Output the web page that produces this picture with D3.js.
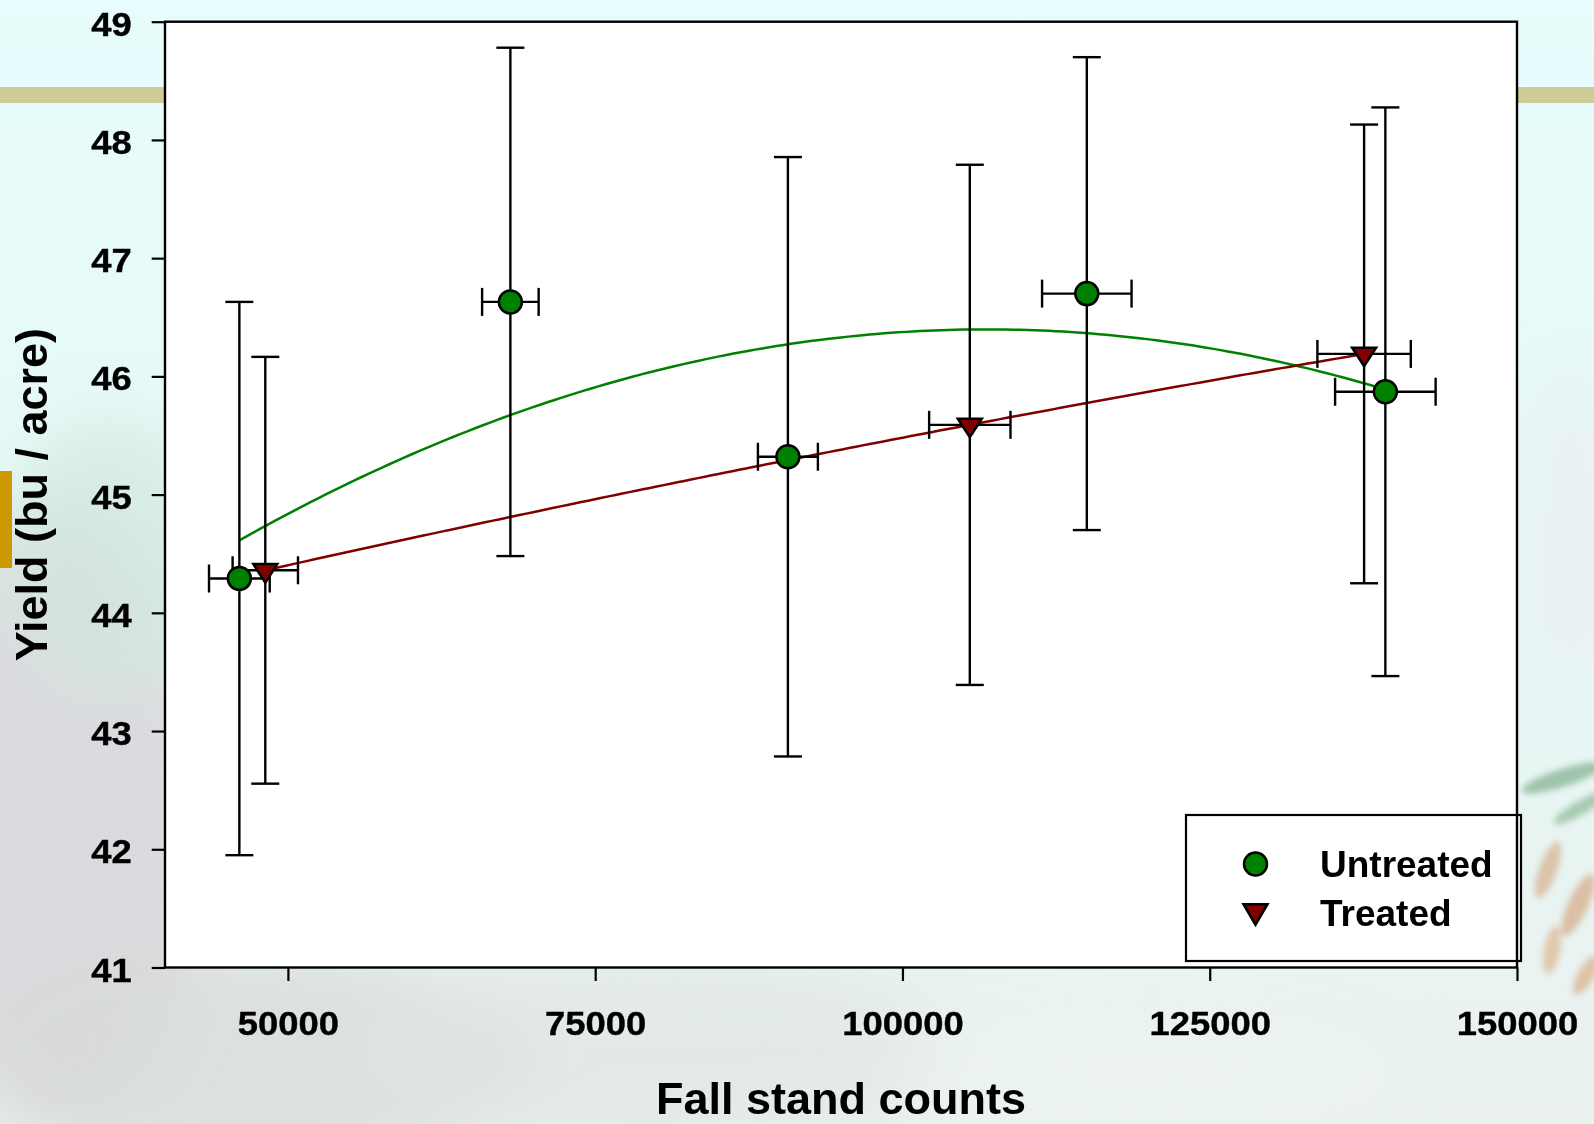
<!DOCTYPE html>
<html>
<head>
<meta charset="utf-8">
<script src="https://cdn.jsdelivr.net/npm/d3@7"></script>
<style>
  html, body { margin: 0; padding: 0; overflow: hidden; background: #e8fcfc; }
  text { font-family: "Liberation Sans", Arial, Helvetica, sans-serif; font-weight: bold; fill: #000; }
</style>
</head>
<body>
<svg id="chart" width="1594" height="1124"></svg>
<script>
// Yield vs. fall stand counts, untreated and treated plots, with
// mean ± error in both directions and a quadratic regression per series.

const xTickValues = [50000, 75000, 100000, 125000, 150000];
const yTickValues = [41, 42, 43, 44, 45, 46, 47, 48, 49];
const seriesNames = ["Untreated", "Treated"];

const untreatedStand = [46050, 68100, 90680, 115000, 139290];
const untreatedYield = [44.29, 46.63, 45.32, 46.70, 45.87];
const untreatedYieldErr = [2.34, 2.15, 2.535, 2.0, 2.405];
const untreatedStandErr = [2470, 2300, 2440, 3640, 4090];

const treatedStand = [48160, 105480, 137560];
const treatedYield = [44.36, 45.59, 46.19];
const treatedYieldErr = [1.805, 2.2, 1.94];
const treatedStandErr = [2660, 3310, 3800];

const W = 1594, H = 1124;
const plot = { left: 165, right: 1517, top: 21.7, bottom: 967.5 };
const GREEN = "#008000", MAROON = "#800000";

const svg = d3.select("#chart");
const defs = svg.append("defs");

// ---------- slide background ----------
const bgGrad = defs.append("linearGradient").attr("id", "bgGrad")
  .attr("x1", 0).attr("y1", 0).attr("x2", 0).attr("y2", 1);
bgGrad.append("stop").attr("offset", "0%").attr("stop-color", "#e7fcfc");
bgGrad.append("stop").attr("offset", "45%").attr("stop-color", "#e6f9f7");
bgGrad.append("stop").attr("offset", "100%").attr("stop-color", "#eaf1ef");

defs.append("filter").attr("id", "haze").attr("x", "-60%").attr("y", "-60%")
  .attr("width", "220%").attr("height", "220%")
  .append("feGaussianBlur").attr("stdDeviation", 30);
defs.append("filter").attr("id", "soft").attr("x", "-60%").attr("y", "-60%")
  .attr("width", "220%").attr("height", "220%")
  .append("feGaussianBlur").attr("stdDeviation", 3);

svg.append("rect").attr("width", W).attr("height", H).attr("fill", "url(#bgGrad)");

const hazePatches = [
  { cx: 60, cy: 820, rx: 150, ry: 320, c: "#d9d5da", o: 0.85 },
  { cx: 110, cy: 560, rx: 110, ry: 140, c: "#d2e8dd", o: 0.7 },
  { cx: 260, cy: 1060, rx: 280, ry: 110, c: "#d8dcd9", o: 0.8 },
  { cx: 650, cy: 1050, rx: 300, ry: 90, c: "#e0e5e2", o: 0.7 },
  { cx: 1150, cy: 1070, rx: 260, ry: 70, c: "#edf3f1", o: 0.6 },
  { cx: 1570, cy: 520, rx: 40, ry: 160, c: "#ede8ec", o: 0.5 }
];
svg.append("g").attr("filter", "url(#haze)")
  .selectAll("ellipse").data(hazePatches).join("ellipse")
  .attr("cx", d => d.cx).attr("cy", d => d.cy)
  .attr("rx", d => d.rx).attr("ry", d => d.ry)
  .attr("fill", d => d.c).attr("opacity", d => d.o);

// faded sprig at the right edge
const sprig = [
  { cx: 1562, cy: 778, rx: 42, ry: 9, r: -18, c: "#86b393" },
  { cx: 1580, cy: 808, rx: 30, ry: 7, r: -30, c: "#93bb9b" },
  { cx: 1548, cy: 870, rx: 9, ry: 30, r: 20, c: "#d8b493" },
  { cx: 1578, cy: 905, rx: 10, ry: 34, r: 25, c: "#d6ae8a" },
  { cx: 1552, cy: 950, rx: 8, ry: 24, r: 10, c: "#dcb995" },
  { cx: 1586, cy: 975, rx: 8, ry: 22, r: 30, c: "#d9b38d" }
];
svg.append("g").attr("filter", "url(#soft)").attr("opacity", 0.75)
  .selectAll("ellipse").data(sprig).join("ellipse")
  .attr("transform", d => `translate(${d.cx},${d.cy}) rotate(${d.r})`)
  .attr("rx", d => d.rx).attr("ry", d => d.ry).attr("fill", d => d.c);

// title rule and side accent of the slide
svg.append("rect").attr("x", 0).attr("y", 87).attr("width", W).attr("height", 16).attr("fill", "#cccc99");
svg.append("rect").attr("x", 0).attr("y", 471).attr("width", 12).attr("height", 97).attr("fill", "#cc9900");

// ---------- scales ----------
const x = d3.scaleLinear().domain([40000, 150000]).range([plot.left, plot.right]);
const y = d3.scaleLinear().domain([41, 49]).range([plot.bottom, plot.top]);

svg.append("rect")
  .attr("x", plot.left).attr("y", plot.top)
  .attr("width", plot.right - plot.left).attr("height", plot.bottom - plot.top)
  .attr("fill", "#ffffff");

// ---------- quadratic regression ----------
function quadFit(xs, ys) {
  const mx = d3.mean(xs);
  const u = xs.map(v => (v - mx) / 1000);
  const S = d3.range(5).map(k => d3.sum(u, t => Math.pow(t, k)));
  const T = d3.range(3).map(k => d3.sum(u, (t, i) => Math.pow(t, k) * ys[i]));
  const A = [
    [S[0], S[1], S[2], T[0]],
    [S[1], S[2], S[3], T[1]],
    [S[2], S[3], S[4], T[2]]
  ];
  for (let i = 0; i < 3; i++) {
    let p = i;
    for (let r = i + 1; r < 3; r++) if (Math.abs(A[r][i]) > Math.abs(A[p][i])) p = r;
    [A[i], A[p]] = [A[p], A[i]];
    for (let r = 0; r < 3; r++) {
      if (r === i) continue;
      const f = A[r][i] / A[i][i];
      for (let c = i; c < 4; c++) A[r][c] -= f * A[i][c];
    }
  }
  const c = A.map((row, i) => row[3] / row[i]);
  return v => { const t = (v - mx) / 1000; return c[0] + c[1] * t + c[2] * t * t; };
}

function fitLine(xs, ys) {
  const f = quadFit(xs, ys);
  const [lo, hi] = d3.extent(xs);
  return d3.range(0, 161).map(i => { const v = lo + (hi - lo) * i / 160; return [v, f(v)]; });
}

const line = d3.line().x(d => x(d[0])).y(d => y(d[1]));

svg.append("path").datum(fitLine(untreatedStand, untreatedYield))
  .attr("d", line).attr("fill", "none").attr("stroke", GREEN).attr("stroke-width", 2.5);
svg.append("path").datum(fitLine(treatedStand, treatedYield))
  .attr("d", line).attr("fill", "none").attr("stroke", MAROON).attr("stroke-width", 2.5);

// ---------- error bars ----------
const untreated = untreatedStand.map((s, i) => ({
  s, v: untreatedYield[i], ev: untreatedYieldErr[i], es: untreatedStandErr[i]
}));
const treated = treatedStand.map((s, i) => ({
  s, v: treatedYield[i], ev: treatedYieldErr[i], es: treatedStandErr[i]
}));

const CAP = 14;
function errorBars(data) {
  const g = svg.append("g").attr("stroke", "#000").attr("stroke-width", 2.4).attr("fill", "none");
  const p = g.selectAll("g").data(data).join("g");
  // vertical
  p.append("line").attr("x1", d => x(d.s)).attr("x2", d => x(d.s))
    .attr("y1", d => y(d.v - d.ev)).attr("y2", d => y(d.v + d.ev));
  p.append("line").attr("x1", d => x(d.s) - CAP).attr("x2", d => x(d.s) + CAP)
    .attr("y1", d => y(d.v + d.ev)).attr("y2", d => y(d.v + d.ev));
  p.append("line").attr("x1", d => x(d.s) - CAP).attr("x2", d => x(d.s) + CAP)
    .attr("y1", d => y(d.v - d.ev)).attr("y2", d => y(d.v - d.ev));
  // horizontal
  p.append("line").attr("x1", d => x(d.s - d.es)).attr("x2", d => x(d.s + d.es))
    .attr("y1", d => y(d.v)).attr("y2", d => y(d.v));
  p.append("line").attr("x1", d => x(d.s - d.es)).attr("x2", d => x(d.s - d.es))
    .attr("y1", d => y(d.v) - CAP).attr("y2", d => y(d.v) + CAP);
  p.append("line").attr("x1", d => x(d.s + d.es)).attr("x2", d => x(d.s + d.es))
    .attr("y1", d => y(d.v) - CAP).attr("y2", d => y(d.v) + CAP);
}
errorBars(untreated);
errorBars(treated);

// ---------- markers ----------
function downTriangle(w, h) {
  const p = d3.path();
  p.moveTo(-w / 2, -h / 3);
  p.lineTo(w / 2, -h / 3);
  p.lineTo(0, 2 * h / 3);
  p.closePath();
  return p.toString();
}

svg.append("g").selectAll("circle").data(untreated).join("circle")
  .attr("cx", d => x(d.s)).attr("cy", d => y(d.v)).attr("r", 11.5)
  .attr("fill", GREEN).attr("stroke", "#000").attr("stroke-width", 2.5);

svg.append("g").selectAll("path").data(treated).join("path")
  .attr("transform", d => `translate(${x(d.s)},${y(d.v)})`)
  .attr("d", downTriangle(24, 18.5))
  .attr("fill", MAROON).attr("stroke", "#000").attr("stroke-width", 2.5);

// ---------- axes ----------
const STRETCH = 1.07;
const tickFont = g => g.style("font-size", "34px")
  .style("font-family", '"Liberation Sans", Arial, sans-serif')
  .style("font-weight", "bold").attr("fill", "#000")
  .attr("stroke", "#000").attr("stroke-width", 0.4);

const xAxis = svg.append("g").attr("transform", `translate(0,${plot.bottom})`)
  .call(d3.axisBottom(x).tickValues(xTickValues).tickFormat(d3.format("d")).tickSize(13.5));
xAxis.select(".domain").remove();
xAxis.selectAll(".tick line").attr("stroke", "#000").attr("stroke-width", 2.2);
xAxis.selectAll(".tick text")
  .attr("y", 68).attr("dy", "0")
  .attr("transform", `scale(${STRETCH},1)`)
  .call(tickFont);

const yAxis = svg.append("g").attr("transform", `translate(${plot.left},0)`)
  .call(d3.axisLeft(y).tickValues(yTickValues).tickFormat(d3.format("d")).tickSize(13.3));
yAxis.select(".domain").remove();
yAxis.selectAll(".tick line").attr("stroke", "#000").attr("stroke-width", 2.2);
yAxis.selectAll(".tick text")
  .attr("x", -33.3 / STRETCH).attr("dy", "0.4em")
  .attr("transform", `scale(${STRETCH},1)`)
  .call(tickFont);

// axis titles
svg.append("text")
  .attr("x", (plot.left + plot.right) / 2).attr("y", 1114)
  .attr("text-anchor", "middle").style("font-size", "45px")
  .text("Fall stand counts");

svg.append("text")
  .attr("transform", `translate(47,${(plot.top + plot.bottom) / 2}) rotate(-90)`)
  .attr("text-anchor", "middle").style("font-size", "45px")
  .text("Yield (bu / acre)");

// ---------- legend ----------
const legend = svg.append("g");
legend.append("rect")
  .attr("x", 1186).attr("y", 815).attr("width", 335).attr("height", 146)
  .attr("fill", "#ffffff").attr("stroke", "#000").attr("stroke-width", 2.2);
legend.append("circle").attr("cx", 1255.5).attr("cy", 864).attr("r", 11.5)
  .attr("fill", GREEN).attr("stroke", "#000").attr("stroke-width", 2.5);
legend.append("path").attr("transform", "translate(1255.5,911)")
  .attr("d", downTriangle(24, 20.5))
  .attr("fill", MAROON).attr("stroke", "#000").attr("stroke-width", 2.5);
legend.selectAll("text.lbl").data(seriesNames).join("text").attr("class", "lbl")
  .attr("x", 1320).attr("y", (d, i) => 876.5 + i * 49)
  .style("font-size", "37px").text(d => d);

// ---------- plot frame ----------
svg.append("rect")
  .attr("x", plot.left).attr("y", plot.top)
  .attr("width", plot.right - plot.left).attr("height", plot.bottom - plot.top)
  .attr("fill", "none").attr("stroke", "#000").attr("stroke-width", 2.4);
</script>
</body>
</html>
